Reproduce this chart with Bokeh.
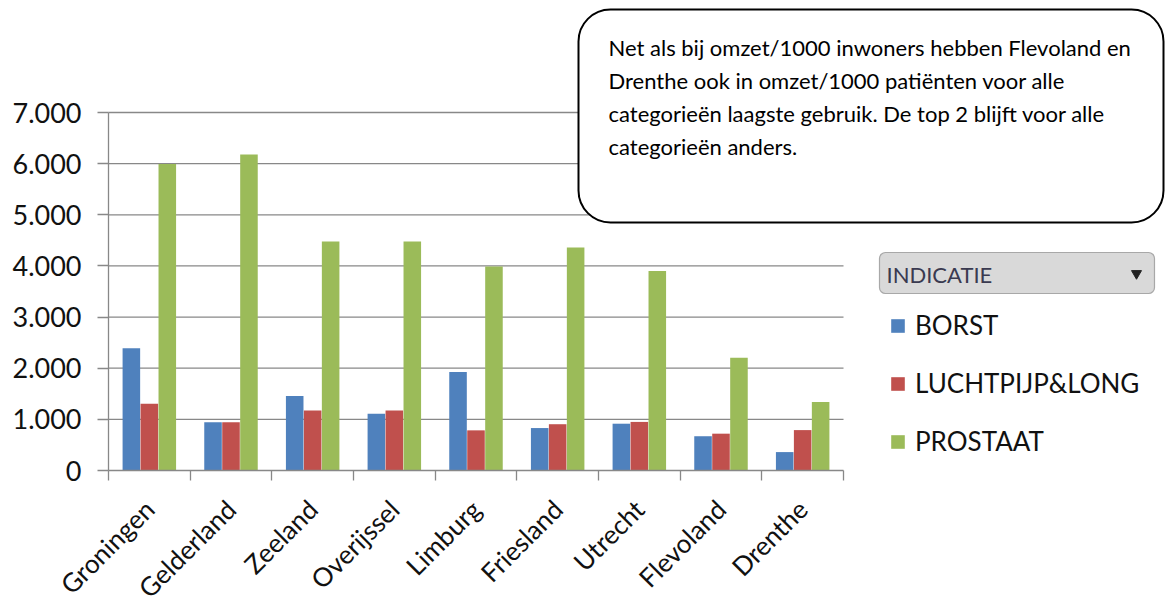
import math
from bokeh.plotting import figure
from bokeh.models import (Range1d, FixedTicker, BoxAnnotation, Label, Legend,
                          LegendItem, ColumnDataSource)
from bokeh.embed import file_html
from bokeh.resources import INLINE

# ---------------- data ----------------
provinces = ["Groningen", "Gelderland", "Zeeland", "Overijssel", "Limburg",
             "Friesland", "Utrecht", "Flevoland", "Drenthe"]
borst = [2390, 945, 1455, 1110, 1925, 830, 915, 670, 360]
luchtpijp_long = [1305, 945, 1175, 1175, 785, 905, 950, 720, 790]
prostaat = [5995, 6180, 4480, 4480, 3990, 4360, 3900, 2205, 1340]
series_names = ["BORST", "LUCHTPIJP&LONG", "PROSTAAT"]
y_ticks = [0, 1000, 2000, 3000, 4000, 5000, 6000, 7000]
y_tick_labels = ["0", "1.000", "2.000", "3.000", "4.000", "5.000", "6.000", "7.000"]
legend_title = "INDICATIE"
callout_lines = [
    "Net als bij omzet/1000 inwoners hebben Flevoland en",
    "Drenthe ook in omzet/1000 patiënten voor alle",
    "categorieën laagste gebruik. De top 2 blijft voor alle",
    "categorieën anders.",
]

# ---------------- styles / geometry ----------------
colors = ["#4F81BD", "#C0504D", "#9BBB59"]
FONT = "Lato"
GRID = "#888888"
W, H = 1167, 608
AX_X, AX_Y = 108, 470             # pixel position of the axes origin
UX = (843 - 108) / 9.0            # px per category
UY = 358 / 7000.0                 # px per unit


def dx(sx):  # page x -> data x
    return (sx - AX_X) / UX


def dy(sy):  # page y -> data y
    return (AX_Y - sy) / UY


p = figure(width=W, height=H, output_backend="svg", toolbar_location=None,
           x_range=Range1d(dx(0), dx(W)), y_range=Range1d(dy(H), dy(0)),
           min_border=0, outline_line_color=None)
p.xgrid.visible = False
p.ygrid.visible = False

n = len(provinces)

# grid lines limited to the category span
p.segment(x0=[0] * (len(y_ticks) - 1), x1=[n] * (len(y_ticks) - 1),
          y0=y_ticks[1:], y1=y_ticks[1:], line_color=GRID, line_width=1.3)

# bars
offsets = [-0.22, 0.0, 0.22]
bw = 0.215
renderers = []
for vals, off, col in zip([borst, luchtpijp_long, prostaat], offsets, colors):
    src = ColumnDataSource(dict(x=[i + 0.5 + off for i in range(n)], top=vals))
    r = p.vbar(x="x", top="top", width=bw, bottom=0, source=src,
               fill_color=col, line_color=None)
    renderers.append(r)

# x axis (category axis, drawn at y = 0)
xa = p.xaxis[0]
xa.fixed_location = 0
xa.ticker = FixedTicker(ticks=[i + 0.5 for i in range(n)],
                        minor_ticks=list(range(n + 1)))
xa.major_label_overrides = {i + 0.5: provinces[i] for i in range(n)}
xa.bounds = (0, n)
xa.major_tick_out = 0
xa.major_tick_in = 0
xa.minor_tick_out = 10
xa.minor_tick_in = 0
xa.minor_tick_line_color = GRID
xa.minor_tick_line_width = 1.3
xa.axis_line_color = GRID
xa.axis_line_width = 1.3
xa.major_label_orientation = math.pi / 4
xa.major_label_standoff = 24
xa.major_label_text_font = FONT
xa.major_label_text_font_size = "26px"
xa.major_label_text_color = "#111111"

# y axis (drawn at x = 0)
ya = p.yaxis[0]
ya.fixed_location = 0
ya.ticker = FixedTicker(ticks=y_ticks, minor_ticks=[])
ya.major_label_overrides = {t: l for t, l in zip(y_ticks, y_tick_labels)}
ya.bounds = (0, 7000)
ya.major_tick_out = 11
ya.major_tick_in = 0
ya.minor_tick_out = 0
ya.major_tick_line_color = GRID
ya.major_tick_line_width = 1.3
ya.axis_line_color = GRID
ya.axis_line_width = 1.3
ya.major_label_standoff = 16
ya.major_label_text_font = FONT
ya.major_label_text_font_size = "27px"
ya.major_label_text_color = "#111111"

# callout box
callout = BoxAnnotation(left=dx(578), right=dx(1163), top=dy(9), bottom=dy(222),
                        fill_color="white", fill_alpha=1.0, line_color="black",
                        line_alpha=1.0, line_width=2, border_radius=32)
p.add_layout(callout)
for k, line in enumerate(callout_lines):
    p.add_layout(Label(x=dx(608), y=dy(47 + 33 * k), text=line,
                       text_font=FONT, text_font_size="22px",
                       text_color="black", text_baseline="middle",
                       text_align="left"))

# legend header (slicer-like box)
hdr = BoxAnnotation(left=dx(879), right=dx(1154), top=dy(252), bottom=dy(293),
                    fill_color="#d9d9d9", fill_alpha=1.0, line_color="#a8a8a8",
                    line_alpha=1.0, line_width=1.2, border_radius=6)
p.add_layout(hdr)
p.add_layout(Label(x=dx(886), y=dy(274), text=legend_title, text_font=FONT,
                   text_font_size="22px", text_color="#3a3a50",
                   text_baseline="middle", text_align="left"))
p.scatter(x=[dx(1136)], y=[dy(273)], marker="inverted_triangle", size=10,
          fill_color="#222222", line_color="#222222", level="overlay")

# legend
legend = Legend(items=[LegendItem(label=nm, renderers=[r])
                       for nm, r in zip(series_names, renderers)],
                location=(889, H - 457),
                border_line_color=None, background_fill_alpha=0,
                padding=0, margin=0, spacing=26, glyph_width=17,
                glyph_height=17, label_standoff=9, label_height=17,
                label_text_font=FONT, label_text_font_size="26px",
                label_text_color="#111111")
p.add_layout(legend)

open("out.html", "w").write(file_html(p, INLINE))
